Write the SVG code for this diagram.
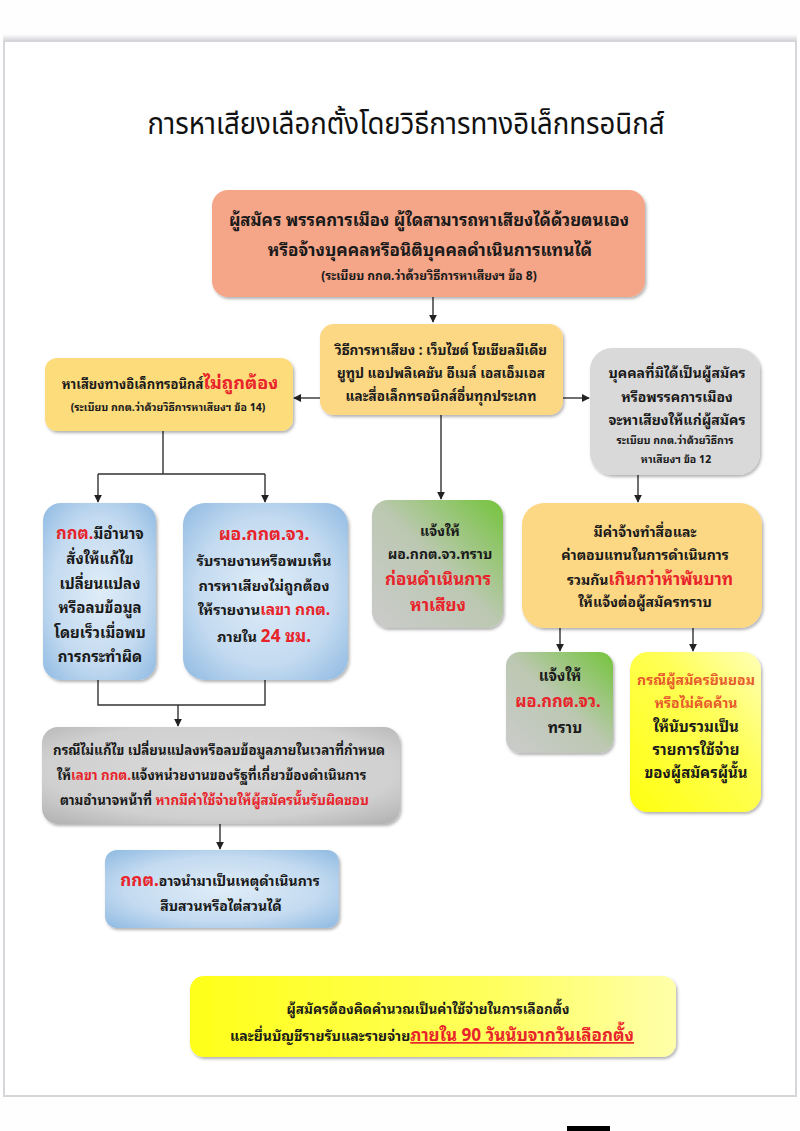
<svg xmlns="http://www.w3.org/2000/svg" width="800" height="1131" viewBox="0 0 800 1131">
<style>
.t{font-family:"Noto Sans Thai Looped","Noto Sans Thai","Tahoma","Noto Sans",sans-serif;font-weight:bold;text-anchor:middle;fill:#1a1a1a}
.s{text-anchor:start}
.r{fill:#e8232a}
.o{fill:#e65a2c}
.title{font-family:"Noto Sans Thai","Noto Sans",sans-serif;font-weight:normal;text-anchor:middle;fill:#111;font-size:30px}
.ln{fill:none;stroke:#333;stroke-width:1.4}
</style>
<defs>
<marker id="ah" viewBox="0 0 10 10" refX="9" refY="5" markerWidth="8" markerHeight="8" markerUnits="userSpaceOnUse" orient="auto">
<path d="M0,0 L10,5 L0,10 z" fill="#222"/>
</marker>
<filter id="sh" x="-10%" y="-10%" width="125%" height="125%">
<feDropShadow dx="1.5" dy="2" stdDeviation="1.5" flood-color="#000" flood-opacity="0.3"/>
</filter>
<radialGradient id="blue" cx="50%" cy="50%" r="70%">
<stop offset="0" stop-color="#e0edf8"/><stop offset="0.6" stop-color="#c3daf0"/><stop offset="1" stop-color="#8fbae2"/>
</radialGradient>
<linearGradient id="green" x1="0" y1="1" x2="1" y2="0">
<stop offset="0" stop-color="#cbcbcb"/><stop offset="0.5" stop-color="#bcc8b2"/><stop offset="1" stop-color="#74c43c"/>
</linearGradient>
<linearGradient id="yel" x1="0" y1="1" x2="1" y2="0">
<stop offset="0" stop-color="#ffff10"/><stop offset="0.6" stop-color="#ffff55"/><stop offset="1" stop-color="#ffffb8"/>
</linearGradient>
<linearGradient id="yel2" x1="0" y1="0" x2="1" y2="0">
<stop offset="0" stop-color="#ffff1a"/><stop offset="0.6" stop-color="#ffff5a"/><stop offset="1" stop-color="#ffffaa"/>
</linearGradient>
<radialGradient id="gray" cx="50%" cy="45%" r="70%">
<stop offset="0" stop-color="#dadada"/><stop offset="0.7" stop-color="#d0d0d0"/><stop offset="1" stop-color="#b5b5b5"/>
</radialGradient>
<linearGradient id="pshadow" x1="0" y1="0" x2="0" y2="1">
<stop offset="0" stop-color="#fff"/><stop offset="1" stop-color="#cfcfd4"/>
</linearGradient>
</defs>

<rect x="0" y="0" width="800" height="1131" fill="#fefefe"/>
<rect x="3" y="34" width="794" height="8" fill="url(#pshadow)"/>
<rect x="4" y="41" width="792" height="1055" fill="#fff" stroke="#d6d6da" stroke-width="2"/>
<rect x="567" y="1126" width="43" height="5" fill="#000"/>

<text class="title" x="406" y="134" textLength="517" lengthAdjust="spacingAndGlyphs">การหาเสียงเลือกตั้งโดยวิธีการทางอิเล็กทรอนิกส์</text>

<g id="connectors">
<path class="ln" d="M433,297 V322" marker-end="url(#ah)"/>
<path class="ln" d="M320,398 H294" marker-end="url(#ah)"/>
<path class="ln" d="M563,398 H589" marker-end="url(#ah)"/>
<path class="ln" d="M163,431 V474 M98,474 H265"/>
<path class="ln" d="M98,474 V502" marker-end="url(#ah)"/>
<path class="ln" d="M265,474 V502" marker-end="url(#ah)"/>
<path class="ln" d="M441,415 V499" marker-end="url(#ah)"/>
<path class="ln" d="M638,475 V502" marker-end="url(#ah)"/>
<path class="ln" d="M560,628 V651" marker-end="url(#ah)"/>
<path class="ln" d="M693,628 V651" marker-end="url(#ah)"/>
<path class="ln" d="M98,680 V705 H265 V680"/>
<path class="ln" d="M178,705 V726" marker-end="url(#ah)"/>
<path class="ln" d="M220,824 V849" marker-end="url(#ah)"/>
</g>

<g id="n1">
<rect x="212" y="190" width="433" height="107" rx="16" fill="#f5a689" filter="url(#sh)"/>
<text class="t" x="429" y="226" font-size="16.8">ผู้สมัคร พรรคการเมือง ผู้ใดสามารถหาเสียงได้ด้วยตนเอง</text>
<text class="t" x="430" y="256" font-size="17">หรือจ้างบุคคลหรือนิติบุคคลดำเนินการแทนได้</text>
<text class="t" x="429" y="280" font-size="12">(ระเบียบ กกต.ว่าด้วยวิธีการหาเสียงฯ ข้อ 8)</text>
</g>

<g id="n2">
<rect x="320" y="324" width="243" height="91" rx="14" fill="#fcd784" filter="url(#sh)"/>
<text class="t" x="441" y="355" font-size="13.5">วิธีการหาเสียง : เว็บไซต์  โซเชียลมีเดีย</text>
<text class="t" x="441" y="378" font-size="13.5">ยูทูป แอปพลิเคชัน อีเมล์ เอสเอ็มเอส</text>
<text class="t" x="441" y="401" font-size="13.5">และสื่อเล็กทรอนิกส์อื่นทุกประเภท</text>
</g>

<g id="n3">
<rect x="45" y="358" width="248" height="73" rx="12" fill="#fddc7c" filter="url(#sh)"/>
<text class="t" x="170" y="389" font-size="13">หาเสียงทางอิเล็กทรอนิกส์<tspan class="r" font-size="18">ไม่ถูกต้อง</tspan></text>
<text class="t" x="168" y="411" font-size="10.5">(ระเบียบ กกต.ว่าด้วยวิธีการหาเสียงฯ ข้อ 14)</text>
</g>

<g id="n4">
<rect x="590" y="348" width="170" height="127" rx="22" fill="#d9d9d9" filter="url(#sh)"/>
<text class="t" x="677" y="378" font-size="14">บุคคลที่มิได้เป็นผู้สมัคร</text>
<text class="t" x="677" y="402" font-size="14">หรือพรรคการเมือง</text>
<text class="t" x="677" y="425" font-size="14">จะหาเสียงให้แก่ผู้สมัคร</text>
<text class="t" x="675" y="444" font-size="10.5">ระเบียบ กกต.ว่าด้วยวิธีการ</text>
<text class="t" x="676" y="463" font-size="10.5">หาเสียงฯ ข้อ 12</text>
</g>

<g id="n5">
<rect x="43" y="503" width="113" height="177" rx="18" fill="url(#blue)" filter="url(#sh)"/>
<text class="t" x="100" y="539" font-size="15"><tspan class="r" font-size="16.5">กกต.</tspan>มีอำนาจ</text>
<text class="t" x="100" y="564" font-size="15">สั่งให้แก้ไข</text>
<text class="t" x="100" y="589" font-size="15">เปลี่ยนแปลง</text>
<text class="t" x="100" y="613" font-size="15">หรือลบข้อมูล</text>
<text class="t" x="100" y="638" font-size="15">โดยเร็วเมื่อพบ</text>
<text class="t" x="100" y="662" font-size="15">การกระทำผิด</text>
</g>

<g id="n6">
<rect x="183" y="503" width="165" height="177" rx="22" fill="url(#blue)" filter="url(#sh)"/>
<text class="t r" x="264" y="540" font-size="17.5">ผอ.กกต.จว.</text>
<text class="t" x="264" y="566" font-size="14.5">รับรายงานหรือพบเห็น</text>
<text class="t" x="264" y="591" font-size="14.5">การหาเสียงไม่ถูกต้อง</text>
<text class="t" x="264" y="615" font-size="14.5">ให้รายงาน<tspan class="r" font-size="15.5">เลขา กกต.</tspan></text>
<text class="t" x="264" y="642" font-size="14.5">ภายใน <tspan class="r" font-size="17">24 ชม.</tspan></text>
</g>

<g id="n7">
<rect x="372" y="500" width="131" height="128" rx="16" fill="url(#green)" filter="url(#sh)"/>
<text class="t" x="440" y="536" font-size="14">แจ้งให้</text>
<text class="t" x="440" y="559" font-size="14">ผอ.กกต.จว.ทราบ</text>
<text class="t r" x="438" y="585" font-size="17">ก่อนดำเนินการ</text>
<text class="t r" x="438" y="611" font-size="17">หาเสียง</text>
</g>

<g id="n8">
<rect x="522" y="503" width="240" height="125" rx="22" fill="#fcd784" filter="url(#sh)"/>
<text class="t" x="645" y="537" font-size="14">มีค่าจ้างทำสื่อและ</text>
<text class="t" x="645" y="560" font-size="14">ค่าตอบแทนในการดำเนินการ</text>
<text class="t" x="650" y="585" font-size="14">รวมกัน<tspan class="r" font-size="16.5">เกินกว่าห้าพันบาท</tspan></text>
<text class="t" x="645" y="607" font-size="14">ให้แจ้งต่อผู้สมัครทราบ</text>
</g>

<g id="n9">
<rect x="506" y="652" width="107" height="101" rx="14" fill="url(#green)" filter="url(#sh)"/>
<text class="t" x="560" y="681" font-size="15">แจ้งให้</text>
<text class="t r" x="558" y="707" font-size="16.5">ผอ.กกต.จว.</text>
<text class="t" x="565" y="733" font-size="15">ทราบ</text>
</g>

<g id="n10">
<rect x="630" y="652" width="131" height="160" rx="18" fill="url(#yel)" filter="url(#sh)"/>
<text class="t o" x="696" y="685" font-size="14">กรณีผู้สมัครยินยอม</text>
<text class="t o" x="696" y="708" font-size="14">หรือไม่คัดค้าน</text>
<text class="t" x="696" y="732" font-size="15">ให้นับรวมเป็น</text>
<text class="t" x="696" y="755" font-size="15">รายการใช้จ่าย</text>
<text class="t" x="696" y="778" font-size="15">ของผู้สมัครผู้นั้น</text>
</g>

<g id="n11">
<rect x="42" y="727" width="358" height="97" rx="16" fill="url(#gray)" filter="url(#sh)"/>
<text class="t s" x="53" y="755" font-size="13.3">กรณีไม่แก้ไข เปลี่ยนแปลงหรือลบข้อมูลภายในเวลาที่กำหนด</text>
<text class="t s" x="57" y="780" font-size="13.3">ให้<tspan class="r">เลขา กกต.</tspan>แจ้งหน่วยงานของรัฐที่เกี่ยวข้องดำเนินการ</text>
<text class="t s" x="60" y="805" font-size="13.3">ตามอำนาจหน้าที่ <tspan class="r">หากมีค่าใช้จ่ายให้ผู้สมัครนั้นรับผิดชอบ</tspan></text>
</g>

<g id="n12">
<rect x="105" y="850" width="234" height="78" rx="12" fill="url(#blue)" filter="url(#sh)"/>
<text class="t" x="220" y="886" font-size="14"><tspan class="r" font-size="17">กกต.</tspan>อาจนำมาเป็นเหตุดำเนินการ</text>
<text class="t" x="221" y="911" font-size="14">สืบสวนหรือไต่สวนได้</text>
</g>

<g id="n13">
<rect x="190" y="976" width="486" height="81" rx="14" fill="url(#yel2)" filter="url(#sh)"/>
<text class="t" x="428" y="1014" font-size="13.5">ผู้สมัครต้องคิดคำนวณเป็นค่าใช้จ่ายในการเลือกตั้ง</text>
<text class="t" x="432" y="1041" font-size="14">และยื่นบัญชีรายรับและรายจ่าย<tspan class="r" font-size="17" text-decoration="underline">ภายใน 90 วันนับจากวันเลือกตั้ง</tspan></text>
</g>
</svg>
